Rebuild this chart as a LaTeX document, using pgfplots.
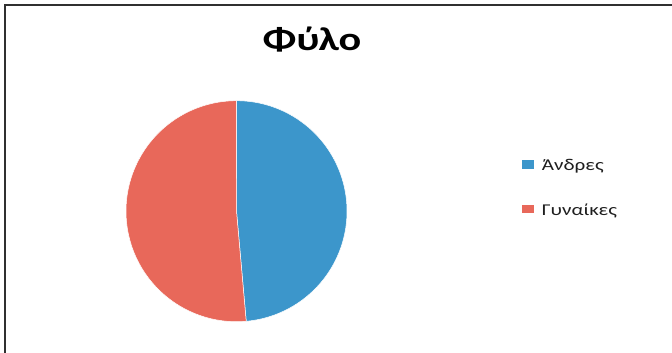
\documentclass[border=0pt]{standalone}
\usepackage{fontspec}
\setmainfont[FakeStretch=1.28]{Carlito}
\usepackage{pgfplots}
\usepackage{pgfplotstable}
\pgfplotsset{compat=1.18}
\definecolor{pieblue}{RGB}{60,150,203}
\definecolor{piered}{RGB}{232,104,90}
\definecolor{frame}{RGB}{48,48,48}
\definecolor{txt}{RGB}{30,30,30}
\pgfplotstableread{
label value
Andres 48.6
Gynaikes 51.4
}\sextable
\pgfplotstablegetelem{0}{value}\of\sextable \let\vA\pgfplotsretval
\pgfplotstablegetelem{1}{value}\of\sextable \let\vB\pgfplotsretval
\pgfmathsetmacro{\fA}{\vA/(\vA+\vB)}
\pgfmathsetmacro{\fB}{\vB/(\vA+\vB)}
\pgfmathsetmacro{\aEnd}{90-360*\fA}
\pgfmathsetmacro{\bEnd}{\aEnd-360*\fB}
\def\cx{236.5}
\def\cy{141.8}
\def\R{110.5}
\begin{document}
\begin{tikzpicture}
\begin{axis}[
  at={(0,0)}, anchor=south west,
  width=672bp, height=353bp, scale only axis,
  xmin=0, xmax=672, ymin=0, ymax=353,
  hide axis, clip=false,
  legend image code/.code={\fill[#1] (0bp,-3.3bp) rectangle (12.7bp,6.1bp);},
  legend style={at={(axis cs:521,195.5)}, anchor=north west, draw=none, fill=none,
    font=\fontsize{16.5bp}{20bp}\selectfont, text=txt, row sep=28.5bp, column sep=6bp, inner sep=0pt,
    nodes={inner sep=1.5bp}},
  legend cell align=left,
]
\coordinate (LL) at (axis cs:0,0);
\coordinate (UR) at (axis cs:672,353);
\addplot[fill=pieblue, draw=white, line width=0.5bp, domain=90:\aEnd, samples=150]
  ({\cx+\R*cos(x)},{\cy+\R*sin(x)}) -- (axis cs:\cx,\cy) -- cycle;
\addlegendentry{Άνδρες}
\addplot[fill=piered, draw=white, line width=0.5bp, domain=\aEnd:\bEnd, samples=150]
  ({\cx+\R*cos(x)},{\cy+\R*sin(x)}) -- (axis cs:\cx,\cy) -- cycle;
\addlegendentry{Γυναίκες}
\node[font=\bfseries\fontsize{33bp}{38bp}\selectfont, anchor=base] at (axis cs:312,302.5) {Φύλο};
\draw[frame, line width=2.5bp] (axis cs:5,0) -- (axis cs:5,348) -- (axis cs:672,348);
\end{axis}
\pgfresetboundingbox
\useasboundingbox (LL) rectangle (UR);
\end{tikzpicture}
\end{document}
